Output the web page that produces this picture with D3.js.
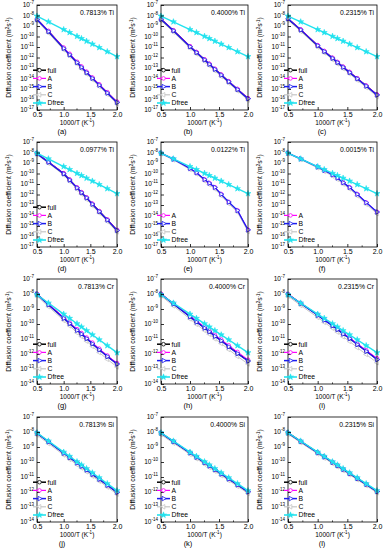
<!DOCTYPE html>
<html>
<head>
<meta charset="utf-8">
<script src="https://cdn.jsdelivr.net/npm/d3@7"></script>
<style>
  body { margin: 0; background: #fff; }
  text { font-family: "Liberation Sans", Arial, sans-serif; fill: #000; }
</style>
</head>
<body>
<svg id="chart" width="383" height="550"></svg>
<script>
// x values: 1000/T (K^-1)
const invT = [0.5, 0.714, 1.0, 1.111, 1.25, 1.333, 1.429, 1.538, 1.667, 1.818, 2.0];

// all series below are log10 of D (m^2 s^-1)
const dfree = [-8.05, -8.60, -9.34, -9.62, -9.98, -10.19, -10.44, -10.72, -11.05, -11.44, -11.91];

// (a) 0.7813% Ti
const aFull = [-8.35, -9.50, -11.10, -11.70, -12.45, -12.90, -13.40, -13.95, -14.60, -15.35, -16.25];
const aA    = [-8.32, -9.46, -11.05, -11.64, -12.40, -12.84, -13.35, -13.90, -14.55, -15.30, -16.20];
const aB    = [-8.38, -9.53, -11.13, -11.74, -12.48, -12.93, -13.43, -13.98, -14.63, -15.38, -16.28];
const aC    = [-8.50, -9.66, -11.26, -11.86, -12.60, -13.06, -13.56, -14.10, -14.76, -15.50, -16.42];
// (b) 0.4000% Ti
const bFull = [-8.35, -9.43, -10.95, -11.50, -12.20, -12.62, -13.10, -13.65, -14.28, -15.02, -15.90];
const bA    = [-8.33, -9.40, -10.92, -11.47, -12.17, -12.59, -13.07, -13.62, -14.25, -14.99, -15.87];
const bB    = [-8.36, -9.45, -10.97, -11.52, -12.22, -12.64, -13.12, -13.67, -14.30, -15.04, -15.92];
const bC    = [-8.48, -9.58, -11.10, -11.65, -12.35, -12.77, -13.25, -13.80, -14.43, -15.17, -16.05];
// (c) 0.2315% Ti
const cFull = [-8.30, -9.35, -10.85, -11.40, -12.05, -12.45, -12.90, -13.40, -14.00, -14.70, -15.55];
const cA    = [-8.28, -9.32, -10.82, -11.37, -12.02, -12.42, -12.87, -13.37, -13.97, -14.67, -15.52];
const cB    = [-8.31, -9.37, -10.87, -11.42, -12.07, -12.47, -12.92, -13.42, -14.02, -14.72, -15.57];
const cC    = [-8.44, -9.50, -11.00, -11.55, -12.20, -12.60, -13.05, -13.55, -14.15, -14.85, -15.70];
// (d) 0.0977% Ti
const dFull = [-8.10, -8.90, -10.00, -10.60, -11.35, -11.80, -12.30, -12.90, -13.60, -14.40, -15.40];
const dA    = [-8.08, -8.88, -9.97, -10.57, -11.32, -11.77, -12.27, -12.87, -13.57, -14.37, -15.37];
const dB    = [-8.11, -8.92, -10.02, -10.62, -11.37, -11.82, -12.32, -12.92, -13.62, -14.42, -15.42];
const dC    = [-8.20, -9.02, -10.13, -10.74, -11.50, -11.95, -12.45, -13.05, -13.76, -14.56, -15.56];
// (e) 0.0122% Ti
const eA    = [-8.05, -8.62, -9.50, -9.90, -10.55, -10.90, -11.30, -11.95, -12.70, -13.50, -15.35];
const eB    = [-8.06, -8.63, -9.52, -9.92, -10.57, -10.92, -11.32, -11.97, -12.72, -13.52, -15.37];
const eC    = [-8.12, -8.70, -9.62, -10.03, -10.69, -11.05, -11.46, -12.11, -12.87, -13.68, -15.52];
// (f) 0.0015% Ti
const fA    = [-8.05, -8.60, -9.36, -9.68, -10.10, -10.40, -10.85, -11.30, -11.95, -12.75, -13.65];
const fB    = [-8.06, -8.61, -9.38, -9.70, -10.12, -10.42, -10.87, -11.32, -11.97, -12.77, -13.67];
const fC    = [-8.10, -8.67, -9.46, -9.80, -10.24, -10.55, -11.00, -11.46, -12.12, -12.92, -13.82];
// (g) 0.7813% Cr
const gFull = [-8.00, -8.70, -9.60, -9.95, -10.40, -10.65, -10.95, -11.30, -11.70, -12.15, -12.65];
const gA    = [-7.98, -8.66, -9.55, -9.90, -10.34, -10.60, -10.90, -11.24, -11.64, -12.10, -12.60];
const gB    = [-8.01, -8.71, -9.62, -9.97, -10.42, -10.67, -10.97, -11.32, -11.72, -12.17, -12.67];
const gC    = [-8.12, -8.84, -9.76, -10.12, -10.58, -10.83, -11.14, -11.49, -11.90, -12.35, -12.86];
// (h) 0.4000% Cr
const hFull = [-8.00, -8.65, -9.50, -9.85, -10.25, -10.50, -10.80, -11.10, -11.50, -11.95, -12.45];
const hA    = [-7.98, -8.62, -9.45, -9.78, -10.18, -10.43, -10.72, -11.03, -11.42, -11.86, -12.38];
const hB    = [-8.01, -8.66, -9.52, -9.87, -10.27, -10.52, -10.82, -11.12, -11.52, -11.97, -12.47];
const hC    = [-8.12, -8.79, -9.66, -10.02, -10.43, -10.68, -10.99, -11.30, -11.70, -12.16, -12.66];
// (i) 0.2315% Cr
const iFull = [-8.02, -8.62, -9.40, -9.72, -10.10, -10.35, -10.65, -10.95, -11.35, -11.80, -12.35];
const iA    = [-8.00, -8.60, -9.37, -9.68, -10.05, -10.30, -10.60, -10.90, -11.30, -11.74, -12.28];
const iB    = [-8.03, -8.63, -9.42, -9.74, -10.12, -10.37, -10.67, -10.97, -11.37, -11.82, -12.37];
const iC    = [-8.14, -8.76, -9.56, -9.89, -10.28, -10.54, -10.85, -11.16, -11.57, -12.03, -12.58];
// (j) 0.7813% Si
const jFull = [-8.08, -8.64, -9.40, -9.69, -10.05, -10.27, -10.52, -10.81, -11.14, -11.54, -12.01];
const jA    = [-8.07, -8.63, -9.39, -9.68, -10.04, -10.26, -10.51, -10.80, -11.13, -11.53, -12.00];
const jB    = [-8.08, -8.65, -9.41, -9.70, -10.06, -10.28, -10.53, -10.82, -11.15, -11.55, -12.02];
const jC    = [-8.20, -8.77, -9.53, -9.82, -10.18, -10.40, -10.65, -10.94, -11.27, -11.67, -12.14];
// (k) 0.4000% Si
const kFull = [-8.07, -8.63, -9.38, -9.67, -10.03, -10.25, -10.50, -10.79, -11.12, -11.51, -11.98];
const kA    = [-8.06, -8.62, -9.37, -9.66, -10.02, -10.24, -10.49, -10.78, -11.11, -11.50, -11.97];
const kB    = [-8.07, -8.64, -9.39, -9.68, -10.04, -10.26, -10.51, -10.80, -11.13, -11.52, -11.99];
const kC    = [-8.17, -8.74, -9.49, -9.78, -10.14, -10.36, -10.61, -10.90, -11.23, -11.62, -12.09];
// (l) 0.2315% Si
const lFull = [-8.06, -8.62, -9.37, -9.65, -10.01, -10.23, -10.48, -10.76, -11.09, -11.48, -11.96];
const lA    = [-8.05, -8.61, -9.36, -9.64, -10.00, -10.22, -10.47, -10.75, -11.08, -11.47, -11.95];
const lB    = [-8.06, -8.63, -9.38, -9.66, -10.02, -10.24, -10.49, -10.77, -11.10, -11.49, -11.97];
const lC    = [-8.14, -8.71, -9.46, -9.74, -10.10, -10.32, -10.57, -10.85, -11.18, -11.57, -12.05];

const panelLabels = ["(a)", "(b)", "(c)", "(d)", "(e)", "(f)", "(g)", "(h)", "(i)", "(j)", "(k)", "(l)"];
const panelNotes = ["0.7813% Ti", "0.4000% Ti", "0.2315% Ti", "0.0977% Ti", "0.0122% Ti", "0.0015% Ti",
                    "0.7813% Cr", "0.4000% Cr", "0.2315% Cr", "0.7813% Si", "0.4000% Si", "0.2315% Si"];
const rowLowExp = [-17, -17, -14, -14];
const xTicks = [0.5, 1.0, 1.5, 2.0];

const panelSeries = [
  {full: aFull, A: aA, B: aB, C: aC},
  {full: bFull, A: bA, B: bB, C: bC},
  {full: cFull, A: cA, B: cB, C: cC},
  {full: dFull, A: dA, B: dB, C: dC},
  {A: eA, B: eB, C: eC},
  {A: fA, B: fB, C: fC},
  {full: gFull, A: gA, B: gB, C: gC},
  {full: hFull, A: hA, B: hB, C: hC},
  {full: iFull, A: iA, B: iB, C: iC},
  {full: jFull, A: jA, B: jB, C: jC},
  {full: kFull, A: kA, B: kB, C: kC},
  {full: lFull, A: lA, B: lB, C: lC}
];

// layout
const colLeft = [37, 161, 288];
const colRight = [117, 248, 377];
const colLabelX = [62, 188, 322];
const rowTop = [5, 142, 279, 417];
const plotH = 105;

const styles = {
  full:  {color: "#000000", shape: "circle", width: 1.3},
  A:     {color: "#ff00ff", shape: "circle", width: 1},
  B:     {color: "#1c1cf0", shape: "triR", width: 1.3},
  C:     {color: "#c6c6c6", shape: "triL", width: 1},
  Dfree: {color: "#22e2ee", shape: "star", width: 1.4}
};
const drawOrder = ["C", "full", "A", "B"];
const legendOrder = ["full", "A", "B", "C", "Dfree"];

const svg = d3.select("#chart");

function drawMarker(g, key, cx, cy) {
  const st = styles[key];
  if (st.shape === "circle") {
    g.append("circle").attr("cx", cx).attr("cy", cy).attr("r", 1.8)
      .attr("fill", "#fff").attr("stroke", st.color).attr("stroke-width", 0.8);
  } else if (st.shape === "star") {
    g.append("path").attr("d", d3.symbol().type(d3.symbolStar).size(11)())
      .attr("transform", `translate(${cx},${cy})`)
      .attr("fill", st.color).attr("stroke", st.color).attr("stroke-width", 0.6);
  } else {
    const rot = st.shape === "triR" ? 90 : -90;
    g.append("path").attr("d", d3.symbol().type(d3.symbolTriangle).size(9)())
      .attr("transform", `translate(${cx},${cy}) rotate(${rot})`)
      .attr("fill", "#fff").attr("stroke", st.color).attr("stroke-width", 0.8);
  }
}

panelSeries.forEach((series, idx) => {
  const col = idx % 3, row = Math.floor(idx / 3);
  const L = colLeft[col], R = colRight[col], T = rowTop[row], B = T + plotH;
  const low = rowLowExp[row];

  const x = d3.scaleLinear().domain([0.5, 2.0]).range([L, R]);
  const y = d3.scaleLog().domain([Math.pow(10, low), 1e-7]).range([B, T]);
  const g = svg.append("g");

  const line = d3.line()
    .x((d, i) => x(invT[i]))
    .y(d => y(Math.pow(10, d)));

  const keys = drawOrder.filter(k => series[k]);
  const all = keys.map(k => ({key: k, vals: series[k]}));
  all.push({key: "Dfree", vals: dfree});

  all.forEach(s => {
    const sg = g.append("g");
    sg.append("path").datum(s.vals).attr("d", line)
      .attr("fill", "none").attr("stroke", styles[s.key].color)
      .attr("stroke-width", styles[s.key].width);
    s.vals.forEach((v, i) => drawMarker(sg, s.key, x(invT[i]), y(Math.pow(10, v))));
  });

  // frame
  g.append("rect").attr("x", L).attr("y", T).attr("width", R - L).attr("height", plotH)
    .attr("fill", "none").attr("stroke", "#000").attr("stroke-width", 0.8);

  // x axis
  const xAxis = g.append("g").attr("transform", `translate(0,${B})`)
    .call(d3.axisBottom(x).tickValues(xTicks).tickFormat(d3.format(".1f"))
      .tickSizeInner(-3).tickSizeOuter(0).tickPadding(2));
  xAxis.select(".domain").remove();
  xAxis.selectAll("text").attr("font-size", 7).attr("font-family", null);
  xAxis.selectAll("line").attr("stroke-width", 0.8);
  g.selectAll(null).data([0.75, 1.25, 1.75]).enter().append("line")
    .attr("x1", d => x(d)).attr("x2", d => x(d)).attr("y1", B).attr("y2", B - 1.6)
    .attr("stroke", "#000").attr("stroke-width", 0.7);

  // y axis
  const exps = d3.range(low, -6);
  const yAxis = g.append("g").attr("transform", `translate(${L},0)`)
    .call(d3.axisLeft(y).tickValues(exps.map(e => Math.pow(10, e))).tickFormat("")
      .tickSizeInner(-3).tickSizeOuter(0));
  yAxis.select(".domain").remove();
  yAxis.selectAll("line").attr("stroke-width", 0.8);
  exps.forEach(e => {
    const t = g.append("text").attr("x", L - 3).attr("y", y(Math.pow(10, e)) + 2.4)
      .attr("text-anchor", "end").attr("font-size", 6.5).text("10");
    t.append("tspan").attr("dy", -3).attr("font-size", 4.5).text(String(e));
  });

  // axis titles
  const xt = g.append("text").attr("x", (L + R) / 2).attr("y", B + 14.5)
    .attr("text-anchor", "middle").attr("font-size", 6.5).text("1000/T (K");
  xt.append("tspan").attr("dy", -2.5).attr("font-size", 4.5).text("-1");
  xt.append("tspan").attr("dy", 2.5).text(")");

  const yt = g.append("text")
    .attr("transform", `translate(${L - 26},${(T + B) / 2}) rotate(-90)`)
    .attr("text-anchor", "middle").attr("font-size", 6.8).text("Diffusion coefficient (m");
  yt.append("tspan").attr("dy", -2.5).attr("font-size", 4.5).text("2");
  yt.append("tspan").attr("dy", 2.5).text("s");
  yt.append("tspan").attr("dy", -2.5).attr("font-size", 4.5).text("-1");
  yt.append("tspan").attr("dy", 2.5).text(")");

  // note and panel label
  g.append("text").attr("x", R - 3).attr("y", T + 10).attr("text-anchor", "end")
    .attr("font-size", 6.8).text(panelNotes[idx]);
  g.append("text").attr("x", colLabelX[col]).attr("y", B + 23.5).attr("text-anchor", "middle")
    .attr("font-size", 7.5).text(panelLabels[idx]);

  // legend
  const entries = legendOrder.filter(k => k === "Dfree" || series[k]);
  entries.forEach((k, i) => {
    const ly = B - 7 - (entries.length - 1 - i) * 8.2;
    g.append("line").attr("x1", L - 4).attr("x2", L + 9).attr("y1", ly).attr("y2", ly)
      .attr("stroke", styles[k].color).attr("stroke-width", styles[k].width + 0.2);
    drawMarker(g, k, L + 2.5, ly);
    g.append("text").attr("x", L + 10.5).attr("y", ly + 2.4).attr("font-size", 6.8).text(k);
  });
});
</script>
</body>
</html>
